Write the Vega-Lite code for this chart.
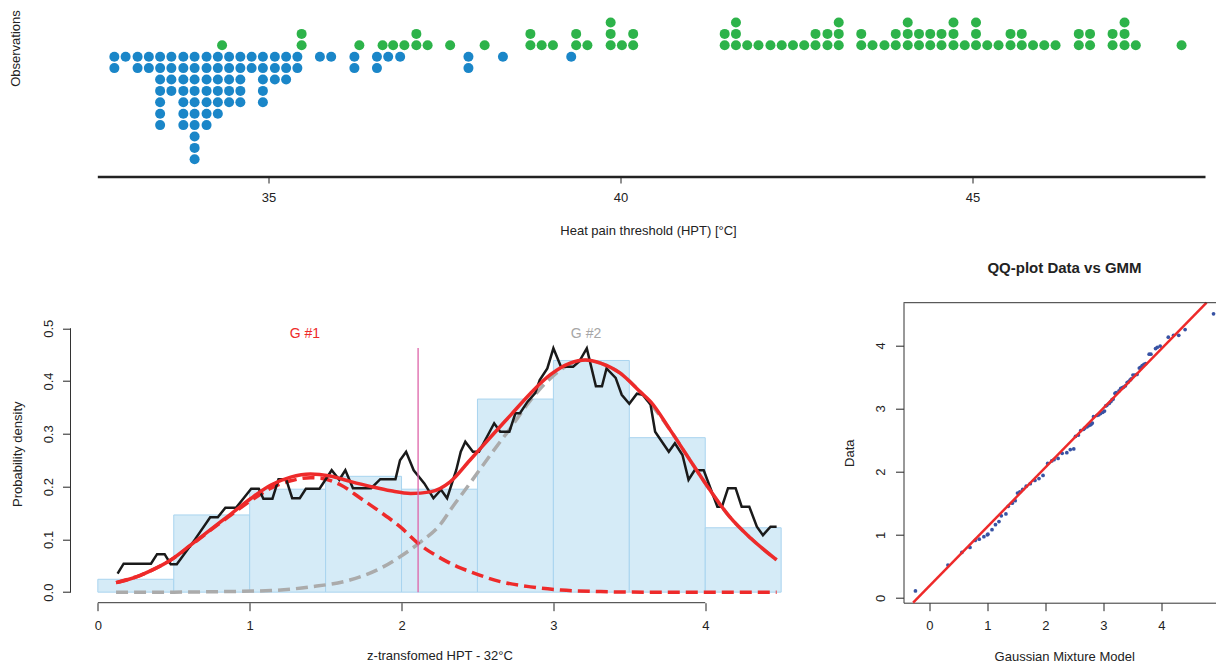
{
  "$schema": "https://vega.github.io/schema/vega-lite/v6.json",
  "padding": {"left": 8.5, "top": 0, "right": 0, "bottom": 0},
  "bounds": "flush",
  "spacing": 125.7,
  "config": {
    "font": "Liberation Sans",
    "view": {"stroke": null},
    "axis": {"grid": false, "labelFont": "Liberation Sans", "titleFont": "Liberation Sans", "labelFontSize": 13, "titleFontSize": 13, "titleFontWeight": "normal", "labelColor": "#222222", "titleColor": "#222222", "tickColor": "#222222", "domainColor": "#333333"}
  },
  "datasets": {
    "dots": [
      {"t":32.81,"v":0,"g":"lo"},{"t":32.81,"v":-1,"g":"lo"},
      {"t":32.97,"v":0,"g":"lo"},
      {"t":33.14,"v":0,"g":"lo"},{"t":33.14,"v":-1,"g":"lo"},
      {"t":33.30,"v":0,"g":"lo"},{"t":33.30,"v":-1,"g":"lo"},
      {"t":33.46,"v":0,"g":"lo"},{"t":33.46,"v":-1,"g":"lo"},{"t":33.46,"v":-2,"g":"lo"},{"t":33.46,"v":-3,"g":"lo"},{"t":33.46,"v":-4,"g":"lo"},{"t":33.46,"v":-5,"g":"lo"},{"t":33.46,"v":-6,"g":"lo"},
      {"t":33.62,"v":0,"g":"lo"},{"t":33.62,"v":-1,"g":"lo"},{"t":33.62,"v":-2,"g":"lo"},{"t":33.62,"v":-3,"g":"lo"},
      {"t":33.79,"v":0,"g":"lo"},{"t":33.79,"v":-1,"g":"lo"},{"t":33.79,"v":-2,"g":"lo"},{"t":33.79,"v":-3,"g":"lo"},{"t":33.79,"v":-4,"g":"lo"},{"t":33.79,"v":-5,"g":"lo"},{"t":33.79,"v":-6,"g":"lo"},
      {"t":33.95,"v":0,"g":"lo"},{"t":33.95,"v":-1,"g":"lo"},{"t":33.95,"v":-2,"g":"lo"},{"t":33.95,"v":-3,"g":"lo"},{"t":33.95,"v":-4,"g":"lo"},{"t":33.95,"v":-5,"g":"lo"},{"t":33.95,"v":-6,"g":"lo"},{"t":33.95,"v":-7,"g":"lo"},{"t":33.95,"v":-8,"g":"lo"},{"t":33.95,"v":-9,"g":"lo"},
      {"t":34.12,"v":0,"g":"lo"},{"t":34.12,"v":-1,"g":"lo"},{"t":34.12,"v":-2,"g":"lo"},{"t":34.12,"v":-3,"g":"lo"},{"t":34.12,"v":-4,"g":"lo"},{"t":34.12,"v":-5,"g":"lo"},{"t":34.12,"v":-6,"g":"lo"},
      {"t":34.28,"v":0,"g":"lo"},{"t":34.28,"v":-1,"g":"lo"},{"t":34.28,"v":-2,"g":"lo"},{"t":34.28,"v":-3,"g":"lo"},{"t":34.28,"v":-4,"g":"lo"},{"t":34.28,"v":-5,"g":"lo"},
      {"t":34.44,"v":0,"g":"lo"},{"t":34.44,"v":-1,"g":"lo"},{"t":34.44,"v":-2,"g":"lo"},{"t":34.44,"v":-3,"g":"lo"},{"t":34.44,"v":-4,"g":"lo"},
      {"t":34.60,"v":0,"g":"lo"},{"t":34.60,"v":-1,"g":"lo"},{"t":34.60,"v":-2,"g":"lo"},{"t":34.60,"v":-3,"g":"lo"},{"t":34.60,"v":-4,"g":"lo"},
      {"t":34.76,"v":0,"g":"lo"},{"t":34.76,"v":-1,"g":"lo"},
      {"t":34.92,"v":0,"g":"lo"},{"t":34.92,"v":-1,"g":"lo"},{"t":34.92,"v":-2,"g":"lo"},{"t":34.92,"v":-3,"g":"lo"},{"t":34.92,"v":-4,"g":"lo"},
      {"t":35.09,"v":0,"g":"lo"},{"t":35.09,"v":-1,"g":"lo"},{"t":35.09,"v":-2,"g":"lo"},
      {"t":35.25,"v":0,"g":"lo"},{"t":35.25,"v":-1,"g":"lo"},{"t":35.25,"v":-2,"g":"lo"},
      {"t":35.41,"v":0,"g":"lo"},{"t":35.41,"v":-1,"g":"lo"},
      {"t":35.73,"v":0,"g":"lo"},
      {"t":35.89,"v":0,"g":"lo"},
      {"t":36.22,"v":0,"g":"lo"},{"t":36.22,"v":-1,"g":"lo"},
      {"t":36.54,"v":0,"g":"lo"},{"t":36.54,"v":-1,"g":"lo"},
      {"t":36.70,"v":0,"g":"lo"},
      {"t":36.87,"v":0,"g":"lo"},
      {"t":37.84,"v":0,"g":"lo"},{"t":37.84,"v":-1,"g":"lo"},
      {"t":38.33,"v":0,"g":"lo"},
      {"t":39.30,"v":0,"g":"lo"},
      {"t":34.34,"v":1,"g":"hi"},
      {"t":35.47,"v":1,"g":"hi"},{"t":35.47,"v":2,"g":"hi"},
      {"t":36.29,"v":1,"g":"hi"},
      {"t":36.62,"v":1,"g":"hi"},
      {"t":36.77,"v":1,"g":"hi"},
      {"t":36.93,"v":1,"g":"hi"},
      {"t":37.10,"v":1,"g":"hi"},{"t":37.10,"v":2,"g":"hi"},
      {"t":37.26,"v":1,"g":"hi"},
      {"t":37.58,"v":1,"g":"hi"},
      {"t":38.07,"v":1,"g":"hi"},
      {"t":38.72,"v":1,"g":"hi"},{"t":38.72,"v":2,"g":"hi"},
      {"t":38.88,"v":1,"g":"hi"},
      {"t":39.04,"v":1,"g":"hi"},
      {"t":39.37,"v":1,"g":"hi"},{"t":39.37,"v":2,"g":"hi"},
      {"t":39.53,"v":1,"g":"hi"},
      {"t":39.86,"v":1,"g":"hi"},{"t":39.86,"v":2,"g":"hi"},{"t":39.86,"v":3,"g":"hi"},
      {"t":40.02,"v":1,"g":"hi"},
      {"t":40.18,"v":1,"g":"hi"},{"t":40.18,"v":2,"g":"hi"},
      {"t":41.48,"v":1,"g":"hi"},{"t":41.48,"v":2,"g":"hi"},
      {"t":41.64,"v":1,"g":"hi"},{"t":41.64,"v":2,"g":"hi"},{"t":41.64,"v":3,"g":"hi"},
      {"t":41.80,"v":1,"g":"hi"},
      {"t":41.96,"v":1,"g":"hi"},
      {"t":42.13,"v":1,"g":"hi"},
      {"t":42.29,"v":1,"g":"hi"},
      {"t":42.45,"v":1,"g":"hi"},
      {"t":42.61,"v":1,"g":"hi"},
      {"t":42.77,"v":1,"g":"hi"},{"t":42.77,"v":2,"g":"hi"},
      {"t":42.94,"v":1,"g":"hi"},{"t":42.94,"v":2,"g":"hi"},
      {"t":43.10,"v":1,"g":"hi"},{"t":43.10,"v":2,"g":"hi"},{"t":43.10,"v":3,"g":"hi"},
      {"t":43.42,"v":1,"g":"hi"},{"t":43.42,"v":2,"g":"hi"},
      {"t":43.58,"v":1,"g":"hi"},
      {"t":43.75,"v":1,"g":"hi"},
      {"t":43.91,"v":1,"g":"hi"},{"t":43.91,"v":2,"g":"hi"},
      {"t":44.08,"v":1,"g":"hi"},{"t":44.08,"v":2,"g":"hi"},{"t":44.08,"v":3,"g":"hi"},
      {"t":44.24,"v":1,"g":"hi"},{"t":44.24,"v":2,"g":"hi"},
      {"t":44.40,"v":1,"g":"hi"},{"t":44.40,"v":2,"g":"hi"},
      {"t":44.56,"v":1,"g":"hi"},{"t":44.56,"v":2,"g":"hi"},
      {"t":44.73,"v":1,"g":"hi"},{"t":44.73,"v":2,"g":"hi"},{"t":44.73,"v":3,"g":"hi"},
      {"t":44.89,"v":1,"g":"hi"},
      {"t":45.05,"v":1,"g":"hi"},{"t":45.05,"v":2,"g":"hi"},{"t":45.05,"v":3,"g":"hi"},
      {"t":45.21,"v":1,"g":"hi"},
      {"t":45.37,"v":1,"g":"hi"},
      {"t":45.54,"v":1,"g":"hi"},{"t":45.54,"v":2,"g":"hi"},
      {"t":45.70,"v":1,"g":"hi"},{"t":45.70,"v":2,"g":"hi"},
      {"t":45.86,"v":1,"g":"hi"},
      {"t":46.02,"v":1,"g":"hi"},
      {"t":46.18,"v":1,"g":"hi"},
      {"t":46.51,"v":1,"g":"hi"},{"t":46.51,"v":2,"g":"hi"},
      {"t":46.67,"v":1,"g":"hi"},{"t":46.67,"v":2,"g":"hi"},
      {"t":46.99,"v":1,"g":"hi"},{"t":46.99,"v":2,"g":"hi"},
      {"t":47.16,"v":1,"g":"hi"},{"t":47.16,"v":2,"g":"hi"},{"t":47.16,"v":3,"g":"hi"},
      {"t":47.32,"v":1,"g":"hi"},
      {"t":47.97,"v":1,"g":"hi"}
    ],
    "hist": [
      {"lo":0,"hi":0.5,"d":0.0244},{"lo":0.5,"hi":1,"d":0.1463},{"lo":1,"hi":1.5,"d":0.1951},
      {"lo":1.5,"hi":2,"d":0.2195},{"lo":2,"hi":2.5,"d":0.1951},{"lo":2.5,"hi":3,"d":0.3659},
      {"lo":3,"hi":3.5,"d":0.4390},{"lo":3.5,"hi":4,"d":0.2927},{"lo":4,"hi":4.5,"d":0.1220}
    ],
    "kde": [
      {"x":0.13,"y":0.035},{"x":0.17,"y":0.054},{"x":0.35,"y":0.054},{"x":0.39,"y":0.072},{"x":0.44,"y":0.072},
      {"x":0.48,"y":0.053},{"x":0.52,"y":0.053},{"x":0.64,"y":0.100},{"x":0.74,"y":0.142},{"x":0.79,"y":0.142},
      {"x":0.84,"y":0.160},{"x":0.91,"y":0.160},{"x":1.01,"y":0.196},{"x":1.06,"y":0.196},{"x":1.09,"y":0.177},
      {"x":1.15,"y":0.177},{"x":1.19,"y":0.214},{"x":1.24,"y":0.214},{"x":1.28,"y":0.178},{"x":1.33,"y":0.178},
      {"x":1.37,"y":0.196},{"x":1.46,"y":0.196},{"x":1.54,"y":0.231},{"x":1.59,"y":0.213},{"x":1.63,"y":0.231},
      {"x":1.68,"y":0.197},{"x":1.80,"y":0.197},{"x":1.86,"y":0.214},{"x":1.96,"y":0.214},{"x":1.99,"y":0.250},
      {"x":2.03,"y":0.266},{"x":2.08,"y":0.231},{"x":2.15,"y":0.206},{"x":2.21,"y":0.178},{"x":2.26,"y":0.194},
      {"x":2.30,"y":0.178},{"x":2.36,"y":0.231},{"x":2.39,"y":0.266},{"x":2.42,"y":0.285},{"x":2.47,"y":0.266},
      {"x":2.51,"y":0.266},{"x":2.61,"y":0.320},{"x":2.65,"y":0.304},{"x":2.71,"y":0.304},{"x":2.75,"y":0.339},
      {"x":2.78,"y":0.339},{"x":2.83,"y":0.361},{"x":2.88,"y":0.377},{"x":2.91,"y":0.402},{"x":2.96,"y":0.424},
      {"x":3.00,"y":0.462},{"x":3.05,"y":0.427},{"x":3.13,"y":0.427},{"x":3.17,"y":0.437},{"x":3.22,"y":0.462},
      {"x":3.28,"y":0.390},{"x":3.32,"y":0.390},{"x":3.35,"y":0.424},{"x":3.41,"y":0.406},{"x":3.45,"y":0.374},
      {"x":3.50,"y":0.357},{"x":3.55,"y":0.376},{"x":3.59,"y":0.374},{"x":3.64,"y":0.355},{"x":3.67,"y":0.304},
      {"x":3.76,"y":0.266},{"x":3.80,"y":0.282},{"x":3.85,"y":0.260},{"x":3.89,"y":0.213},{"x":3.93,"y":0.231},
      {"x":3.99,"y":0.231},{"x":4.08,"y":0.162},{"x":4.11,"y":0.162},{"x":4.15,"y":0.197},{"x":4.20,"y":0.197},
      {"x":4.24,"y":0.162},{"x":4.29,"y":0.162},{"x":4.34,"y":0.124},{"x":4.38,"y":0.108},{"x":4.43,"y":0.124},
      {"x":4.47,"y":0.124}
    ],
    "mix": [
      {"x":0.12,"y":0.018},{"x":0.20,"y":0.024},{"x":0.28,"y":0.032},{"x":0.38,"y":0.045},{"x":0.48,"y":0.061},
      {"x":0.61,"y":0.089},{"x":0.74,"y":0.118},{"x":0.88,"y":0.149},{"x":1.01,"y":0.178},{"x":1.14,"y":0.203},
      {"x":1.27,"y":0.218},{"x":1.40,"y":0.224},{"x":1.53,"y":0.220},{"x":1.66,"y":0.210},{"x":1.80,"y":0.200},
      {"x":1.93,"y":0.192},{"x":2.06,"y":0.187},{"x":2.19,"y":0.190},{"x":2.32,"y":0.209},{"x":2.45,"y":0.250},
      {"x":2.59,"y":0.295},{"x":2.72,"y":0.336},{"x":2.85,"y":0.377},{"x":2.98,"y":0.412},{"x":3.11,"y":0.434},
      {"x":3.21,"y":0.440},{"x":3.31,"y":0.434},{"x":3.44,"y":0.415},{"x":3.57,"y":0.380},{"x":3.64,"y":0.361},
      {"x":3.77,"y":0.307},{"x":3.90,"y":0.250},{"x":4.03,"y":0.194},{"x":4.16,"y":0.143},{"x":4.30,"y":0.102},
      {"x":4.47,"y":0.061}
    ],
    "g1": [
      {"x":0.12,"y":0.018},{"x":0.28,"y":0.032},{"x":0.48,"y":0.061},{"x":0.61,"y":0.088},{"x":0.74,"y":0.117},
      {"x":0.88,"y":0.147},{"x":1.01,"y":0.174},{"x":1.14,"y":0.197},{"x":1.27,"y":0.211},{"x":1.40,"y":0.217},
      {"x":1.47,"y":0.216},{"x":1.60,"y":0.203},{"x":1.73,"y":0.178},{"x":1.86,"y":0.152},{"x":1.99,"y":0.124},
      {"x":2.12,"y":0.090},{"x":2.26,"y":0.064},{"x":2.37,"y":0.048},{"x":2.45,"y":0.039},{"x":2.65,"y":0.020},
      {"x":2.85,"y":0.010},{"x":3.05,"y":0.004},{"x":3.31,"y":0.001},{"x":3.60,"y":0.0},{"x":4.00,"y":0.0},
      {"x":4.47,"y":0.0}
    ],
    "g2": [
      {"x":0.12,"y":0.0},{"x":0.50,"y":0.0},{"x":0.80,"y":0.001},{"x":1.14,"y":0.003},{"x":1.40,"y":0.010},
      {"x":1.66,"y":0.023},{"x":1.86,"y":0.045},{"x":1.99,"y":0.067},{"x":2.12,"y":0.094},{"x":2.26,"y":0.130},
      {"x":2.32,"y":0.155},{"x":2.45,"y":0.206},{"x":2.59,"y":0.262},{"x":2.72,"y":0.312},{"x":2.85,"y":0.364},
      {"x":2.98,"y":0.405},{"x":3.11,"y":0.432},{"x":3.21,"y":0.440},{"x":3.31,"y":0.434},{"x":3.44,"y":0.415},
      {"x":3.57,"y":0.380},{"x":3.77,"y":0.307},{"x":3.90,"y":0.250},{"x":4.03,"y":0.194},{"x":4.16,"y":0.143},
      {"x":4.30,"y":0.102},{"x":4.47,"y":0.061}
    ],
    "labels": [
      {"x":1.364,"y":0.489,"txt":"G #1","c":"g1"},
      {"x":3.215,"y":0.489,"txt":"G #2","c":"g2"}
    ],
    "qq": [
      {"m":-0.24,"d":0.11},{"m":0.32,"d":0.52},{"m":0.56,"d":0.72},{"m":0.70,"d":0.80},{"m":0.79,"d":0.91},
      {"m":0.86,"d":0.93},{"m":0.94,"d":0.97},{"m":1.00,"d":1.00},{"m":1.01,"d":1.01},{"m":1.08,"d":1.08},
      {"m":1.14,"d":1.16},{"m":1.20,"d":1.21},{"m":1.24,"d":1.30},{"m":1.32,"d":1.33},{"m":1.36,"d":1.45},
      {"m":1.43,"d":1.50},{"m":1.48,"d":1.54},{"m":1.52,"d":1.66},{"m":1.56,"d":1.68},{"m":1.61,"d":1.72},
      {"m":1.67,"d":1.77},{"m":1.74,"d":1.81},{"m":1.82,"d":1.86},{"m":1.89,"d":1.89},{"m":1.96,"d":1.94},
      {"m":2.04,"d":2.13},{"m":2.11,"d":2.17},{"m":2.15,"d":2.19},{"m":2.22,"d":2.21},{"m":2.29,"d":2.29},
      {"m":2.37,"d":2.30},{"m":2.43,"d":2.35},{"m":2.49,"d":2.36},{"m":2.52,"d":2.56},{"m":2.57,"d":2.58},
      {"m":2.61,"d":2.65},{"m":2.66,"d":2.67},{"m":2.68,"d":2.69},{"m":2.72,"d":2.71},{"m":2.75,"d":2.73},
      {"m":2.77,"d":2.74},{"m":2.79,"d":2.75},{"m":2.81,"d":2.77},{"m":2.83,"d":2.87},{"m":2.89,"d":2.89},
      {"m":2.92,"d":2.90},{"m":2.95,"d":2.92},{"m":2.99,"d":2.94},{"m":3.02,"d":2.96},{"m":3.04,"d":3.04},
      {"m":3.06,"d":3.05},{"m":3.10,"d":3.08},{"m":3.13,"d":3.11},{"m":3.15,"d":3.14},{"m":3.17,"d":3.15},
      {"m":3.20,"d":3.24},{"m":3.22,"d":3.25},{"m":3.27,"d":3.28},{"m":3.30,"d":3.32},{"m":3.33,"d":3.33},
      {"m":3.35,"d":3.34},{"m":3.38,"d":3.36},{"m":3.41,"d":3.41},{"m":3.43,"d":3.42},{"m":3.46,"d":3.45},
      {"m":3.48,"d":3.47},{"m":3.51,"d":3.53},{"m":3.54,"d":3.53},{"m":3.58,"d":3.54},{"m":3.62,"d":3.64},
      {"m":3.64,"d":3.65},{"m":3.67,"d":3.68},{"m":3.70,"d":3.70},{"m":3.73,"d":3.71},{"m":3.79,"d":3.86},
      {"m":3.82,"d":3.86},{"m":3.90,"d":3.95},{"m":3.93,"d":3.97},{"m":3.98,"d":3.99},{"m":4.12,"d":4.13},
      {"m":4.21,"d":4.16},{"m":4.30,"d":4.16},{"m":4.41,"d":4.25},{"m":4.90,"d":4.50}
    ],
    "qqline": [
      {"m":-0.28,"d":-0.076},{"m":4.78,"d":4.676}
    ],
    "one": [{}]
  },
  "vconcat": [
    {
      "width": 1135,
      "height": 177,
      "layer": [
        {
          "data": {"name": "dots"},
          "mark": {"type": "circle", "size": 100, "opacity": 1},
          "encoding": {
            "x": {"field": "t", "type": "quantitative",
              "scale": {"domain": [32.187, 48.31], "nice": false, "zero": false},
              "axis": {"values": [35, 40, 45], "format": "d", "title": "Heat pain threshold (HPT) [°C]", "domain": false, "tickSize": 6, "labelPadding": 8, "labelBaseline": "top", "titleX": 577.5, "titleY": 53, "titleAlign": "center", "titleBaseline": "middle"}},
            "y": {"field": "v", "type": "quantitative",
              "scale": {"domain": [-10.553, 4.974], "nice": false, "zero": false},
              "axis": {"title": "Observations", "labels": false, "ticks": false, "domain": false, "titleX": -55, "titleY": 48, "titleAngle": -90, "titleAlign": "center", "titleBaseline": "middle"}},
            "color": {"field": "g", "type": "nominal", "scale": {"domain": ["lo", "hi"], "range": ["#1A86C8", "#2DB34A"]}, "legend": null}
          }
        },
        {
          "data": {"name": "one"},
          "mark": {"type": "rule", "color": "#222222", "strokeWidth": 2.5},
          "encoding": {
            "x": {"datum": 32.575, "type": "quantitative"},
            "x2": {"datum": 48.31},
            "y": {"datum": -10.553, "type": "quantitative"}
          }
        }
      ]
    },
    {
      "bounds": "flush",
      "spacing": 95,
      "hconcat": [
        {
          "width": 738,
          "height": 300,
          "layer": [
            {
              "data": {"name": "hist"},
              "mark": {"type": "rect", "fill": "#D5EBF7", "stroke": "#A9D4EF", "strokeWidth": 1},
              "encoding": {
                "x": {"field": "lo", "type": "quantitative",
                  "scale": {"domain": [-0.18, 4.68], "nice": false, "zero": false},
                  "axis": {"values": [0, 1, 2, 3, 4], "format": "d", "title": "z-transfomed HPT - 32°C", "domain": false, "tickSize": 8, "labelPadding": 9, "titleX": 369, "titleY": 53, "titleAlign": "center", "titleBaseline": "middle"}},
                "x2": {"field": "hi"},
                "y": {"field": "d", "type": "quantitative",
                  "scale": {"domain": [-0.02, 0.5485], "nice": false, "zero": false},
                  "axis": {"values": [0, 0.1, 0.2, 0.3, 0.4, 0.5], "format": ".1f", "title": "Probability density", "domain": false, "tickSize": 8, "labelAngle": -90, "labelAlign": "center", "labelBaseline": "middle", "labelPadding": 14, "titleX": -53, "titleY": 151, "titleAngle": -90, "titleAlign": "center", "titleBaseline": "middle"}},
                "y2": {"datum": 0}
              }
            },
            {
              "data": {"name": "g2"},
              "mark": {"type": "line", "color": "#ABABAB", "strokeWidth": 3.5, "strokeDash": [12, 6], "interpolate": "monotone"},
              "encoding": {
                "x": {"field": "x", "type": "quantitative"},
                "y": {"field": "y", "type": "quantitative"}
              }
            },
            {
              "data": {"name": "g1"},
              "mark": {"type": "line", "color": "#EE2A2A", "strokeWidth": 3.5, "strokeDash": [12, 6], "interpolate": "monotone"},
              "encoding": {
                "x": {"field": "x", "type": "quantitative"},
                "y": {"field": "y", "type": "quantitative"}
              }
            },
            {
              "data": {"name": "kde"},
              "mark": {"type": "line", "color": "#1A1A1A", "strokeWidth": 2.5},
              "encoding": {
                "x": {"field": "x", "type": "quantitative"},
                "y": {"field": "y", "type": "quantitative"}
              }
            },
            {
              "data": {"name": "mix"},
              "mark": {"type": "line", "color": "#EE2A2A", "strokeWidth": 3.5, "interpolate": "monotone"},
              "encoding": {
                "x": {"field": "x", "type": "quantitative"},
                "y": {"field": "y", "type": "quantitative"}
              }
            },
            {
              "data": {"name": "one"},
              "mark": {"type": "rule", "color": "#DE64A8", "strokeWidth": 1.3},
              "encoding": {
                "x": {"datum": 2.109, "type": "quantitative"},
                "y": {"datum": 0, "type": "quantitative"},
                "y2": {"datum": 0.4625}
              }
            },
            {
              "data": {"name": "one"},
              "mark": {"type": "rule", "color": "#333333", "strokeWidth": 1},
              "encoding": {
                "x": {"datum": 0, "type": "quantitative"},
                "x2": {"datum": 4},
                "y": {"datum": -0.02, "type": "quantitative"}
              }
            },
            {
              "data": {"name": "one"},
              "mark": {"type": "rule", "color": "#333333", "strokeWidth": 1},
              "encoding": {
                "x": {"datum": -0.18, "type": "quantitative"},
                "y": {"datum": 0, "type": "quantitative"},
                "y2": {"datum": 0.5}
              }
            },
            {
              "data": {"name": "labels"},
              "transform": [{"filter": "datum.c == 'g1'"}],
              "mark": {"type": "text", "fontSize": 14, "align": "center", "baseline": "middle", "color": "#EE2A2A"},
              "encoding": {
                "x": {"field": "x", "type": "quantitative"},
                "y": {"field": "y", "type": "quantitative"},
                "text": {"field": "txt"}
              }
            },
            {
              "data": {"name": "labels"},
              "transform": [{"filter": "datum.c == 'g2'"}],
              "mark": {"type": "text", "fontSize": 14, "align": "center", "baseline": "middle", "color": "#A6A6A6"},
              "encoding": {
                "x": {"field": "x", "type": "quantitative"},
                "y": {"field": "y", "type": "quantitative"},
                "text": {"field": "txt"}
              }
            }
          ]
        },
        {
          "width": 313,
          "height": 300,
          "title": {"text": "QQ-plot Data vs GMM", "fontSize": 15, "fontWeight": "bold", "font": "Liberation Sans", "color": "#222222", "anchor": "middle", "dx": 4.5, "offset": 7, "baseline": "bottom"},
          "layer": [
            {
              "data": {"name": "qq"},
              "mark": {"type": "circle", "size": 14, "opacity": 1, "color": "#3853A4"},
              "encoding": {
                "x": {"field": "m", "type": "quantitative",
                  "scale": {"domain": [-0.446, 4.951], "nice": false, "zero": false},
                  "axis": {"values": [0, 1, 2, 3, 4], "format": "d", "title": "Gaussian Mixture Model", "tickSize": 8, "labelPadding": 9, "titleX": 160.7, "titleY": 53.3, "titleAlign": "center", "titleBaseline": "middle"}},
                "y": {"field": "d", "type": "quantitative",
                  "scale": {"domain": [-0.076, 4.676], "nice": false, "zero": false},
                  "axis": {"values": [0, 1, 2, 3, 4], "format": "d", "title": "Data", "tickSize": 8, "labelAngle": -90, "labelAlign": "center", "labelBaseline": "middle", "labelPadding": 15, "titleX": -54, "titleY": 150, "titleAngle": -90, "titleAlign": "center", "titleBaseline": "middle"}}
              }
            },
            {
              "data": {"name": "qqline"},
              "mark": {"type": "line", "color": "#EE2A2A", "strokeWidth": 2.5},
              "encoding": {
                "x": {"field": "m", "type": "quantitative"},
                "y": {"field": "d", "type": "quantitative"}
              }
            },
            {
              "data": {"name": "one"},
              "mark": {"type": "rule", "color": "#333333", "strokeWidth": 1},
              "encoding": {
                "x": {"datum": -0.446, "type": "quantitative"},
                "x2": {"datum": 4.951},
                "y": {"datum": 4.676, "type": "quantitative"}
              }
            }
          ]
        }
      ]
    }
  ]
}
